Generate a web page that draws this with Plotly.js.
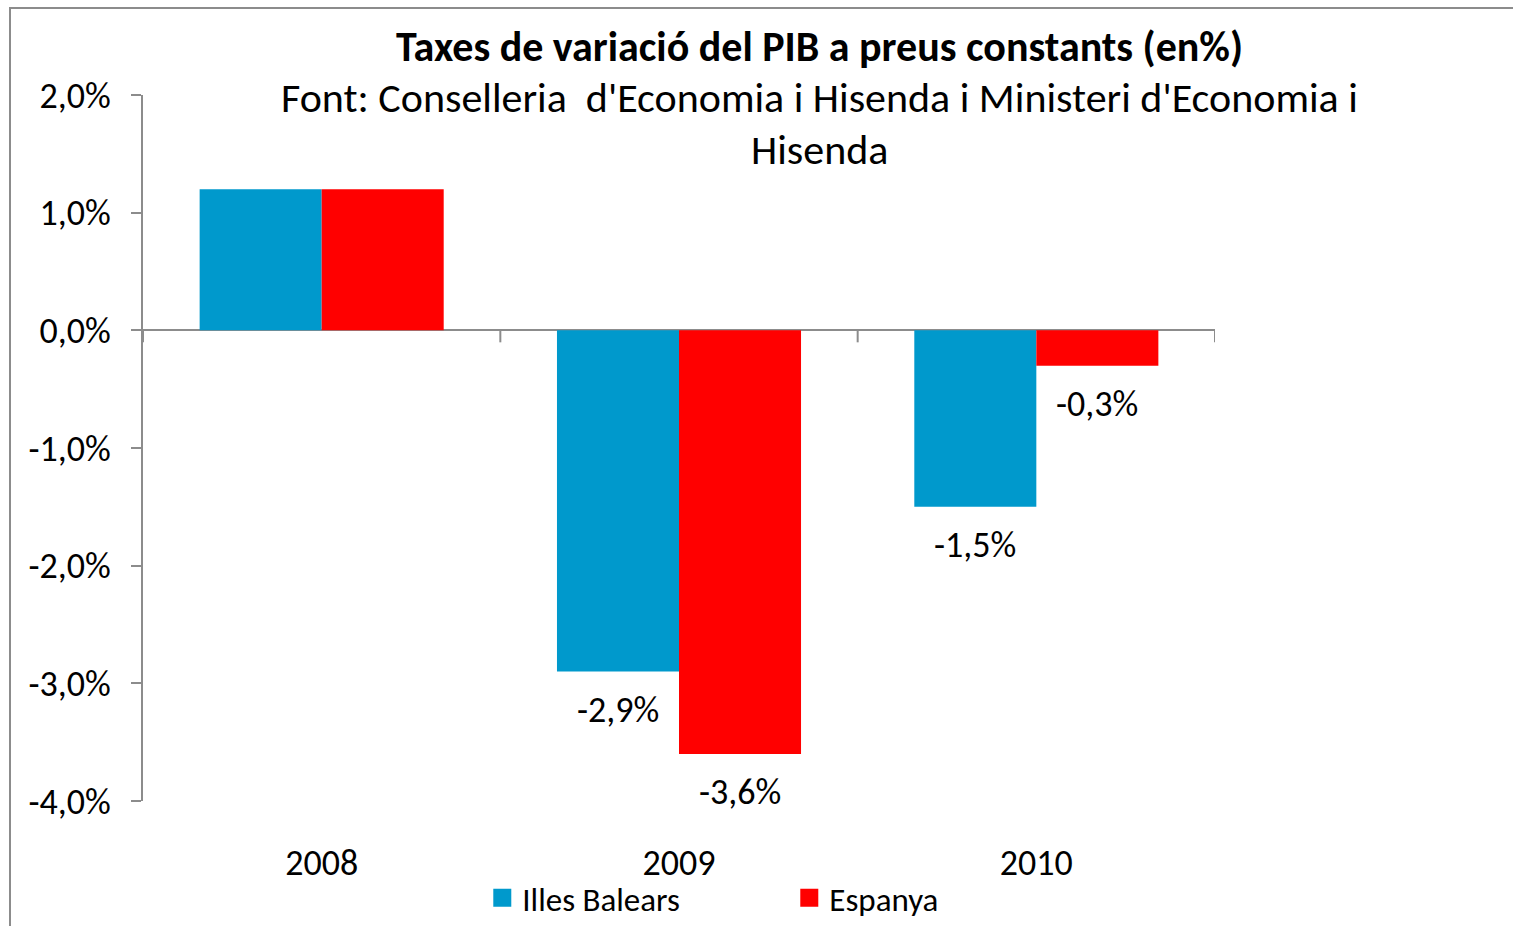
<!DOCTYPE html>
<html>
<head>
<meta charset="utf-8">
<script src="https://cdn.plot.ly/plotly-3.0.1.min.js"></script>
<style>
  html, body { margin: 0; padding: 0; background: #fff; }
  #wrap { position: relative; width: 1513px; height: 926px; overflow: hidden; }
  #frame { position: absolute; left: 9px; top: 7px; right: -5px; bottom: -5px;
           border-left: 2px solid #8c8c8c; border-top: 2px solid #8c8c8c; pointer-events: none; }
  #chart { position: absolute; left: 0; top: 0; width: 1513px; height: 926px; }
</style>
</head>
<body>
<div id="wrap">
  <div id="chart"></div>
  <div id="frame"></div>
</div>
<script>
const years = ['2008', '2009', '2010'];
const illesBalears = [1.2, -2.9, -1.5];
const espanya = [1.2, -3.6, -0.3];
const labelYears = ['2009', '2010'];
const seriesNames = ['Illes Balears', 'Espanya'];
const tickValues = [-4, -3, -2, -1, 0, 1, 2];

const FONT = 'Carlito, Lato, "Open Sans", sans-serif';
const BLUE = '#0099CC';
const RED = '#FF0000';

function fmt(v) { return v.toFixed(1).replace('.', ',') + '%'; }

const traces = [
  { type: 'bar', name: seriesNames[0], x: years, y: illesBalears, marker: { color: BLUE }, hoverinfo: 'x+y' },
  { type: 'bar', name: seriesNames[1], x: years, y: espanya, marker: { color: RED }, hoverinfo: 'x+y' }
];

// data labels (only for 2009 and 2010) placed through the axis scales with a pixel offset
const annotations = [];
[illesBalears, espanya].forEach((vals, si) => {
  years.forEach((yr, i) => {
    if (labelYears.indexOf(yr) < 0) return;
    annotations.push({
      x: i, y: vals[i], xref: 'x', yref: 'y',
      xshift: si === 0 ? -61 : 61, yshift: -38,
      text: fmt(vals[i]), showarrow: false,
      font: { family: FONT, size: 36, color: '#000' },
      xanchor: 'center', yanchor: 'middle'
    });
  });
});

annotations.push({
  text: '<b>Taxes de variació del PIB a preus constants (en%)</b>',
  xref: 'paper', yref: 'paper', x: 0.6315, y: 1.0694,
  xanchor: 'center', yanchor: 'middle', showarrow: false,
  font: { family: FONT, size: 42, color: '#000' }
});
annotations.push({
  text: "Font: Conselleria  d'Economia i Hisenda i Ministeri d'Economia i",
  xref: 'paper', yref: 'paper', x: 0.6315, y: 0.9958,
  xanchor: 'center', yanchor: 'middle', showarrow: false,
  font: { family: FONT, size: 42, color: '#000' }
});
annotations.push({
  text: 'Hisenda',
  xref: 'paper', yref: 'paper', x: 0.6315, y: 0.9221,
  xanchor: 'center', yanchor: 'middle', showarrow: false,
  font: { family: FONT, size: 42, color: '#000' }
});

// category separator ticks on the zero line
const shapes = [-0.5, 0.5, 1.5, 2.5].map(xv => ({
  type: 'line', xref: 'x', yref: 'y', x0: xv, x1: xv,
  ysizemode: 'pixel', yanchor: 0, y0: 0, y1: -12,
  line: { color: '#8c8c8c', width: 2 }
}));

const layout = {
  width: 1513, height: 926,
  margin: { l: 143, r: 298, t: 95, b: 125, autoexpand: false },
  paper_bgcolor: 'rgba(0,0,0,0)', plot_bgcolor: 'rgba(0,0,0,0)',
  font: { family: FONT, color: '#000' },
  barmode: 'group', bargap: 0.317, bargroupgap: 0,
  showlegend: true,
  legend: {
    orientation: 'h', x: 0.3165, y: -0.137, xanchor: 'left', yanchor: 'middle',
    font: { family: FONT, size: 33, color: '#000' },
    entrywidth: 262, itemwidth: 30, bgcolor: 'rgba(0,0,0,0)'
  },
  xaxis: {
    type: 'category', range: [-0.5, 2.5], automargin: false,
    showline: false, showgrid: false, zeroline: false, ticks: '',
    tickfont: { family: FONT, size: 36, color: '#000' },
    ticklabelstandoff: 37, fixedrange: true
  },
  yaxis: {
    range: [-4, 2], tickmode: 'array', tickvals: tickValues, ticktext: tickValues.map(fmt),
    automargin: false,
    showline: true, linecolor: '#8c8c8c', linewidth: 2,
    ticks: 'outside', ticklen: 10, tickwidth: 2, tickcolor: '#8c8c8c',
    showgrid: false, zeroline: true, zerolinecolor: '#8c8c8c', zerolinewidth: 2,
    tickfont: { family: FONT, size: 36, color: '#000' },
    ticklabelstandoff: 13, fixedrange: true
  },
  annotations: annotations,
  shapes: shapes
};

Plotly.newPlot('chart', traces, layout, { displayModeBar: false, staticPlot: true }).then(() => {
  // enlarge the legend swatches to match the reference's bigger squares
  document.querySelectorAll('#chart .legendpoints path').forEach(p => {
    const t = p.getAttribute('transform') || '';
    p.setAttribute('transform', t + ' scale(1.5)');
  });
});
</script>
</body>
</html>
